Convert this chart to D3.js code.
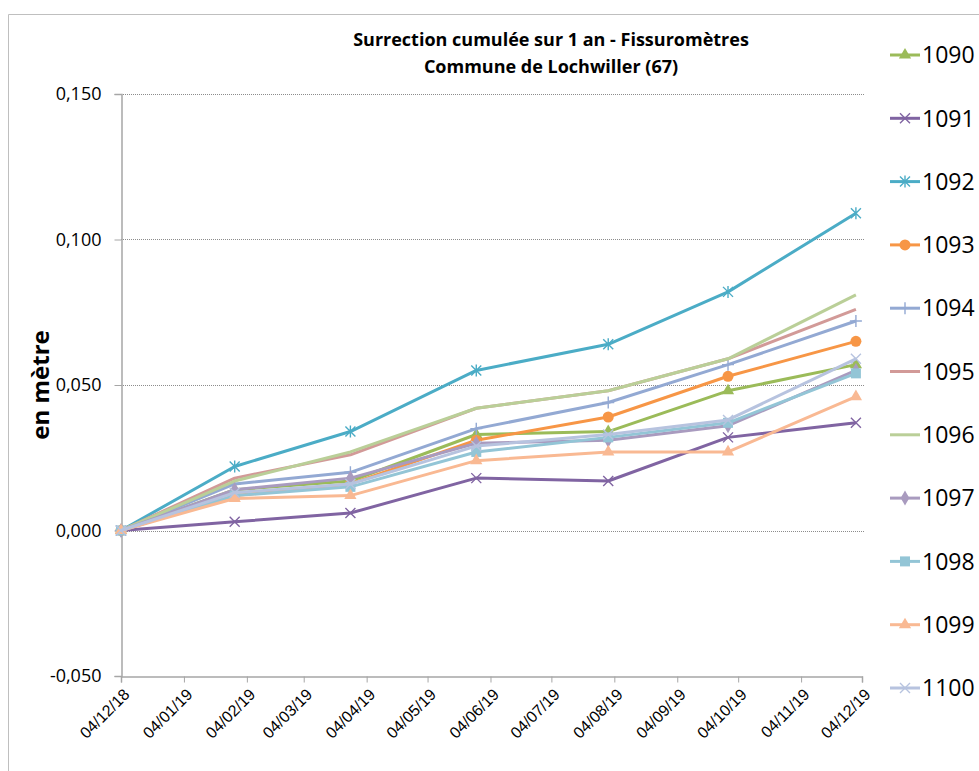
<!DOCTYPE html>
<html>
<head>
<meta charset="utf-8">
<script src="https://cdn.jsdelivr.net/npm/d3@7"></script>
<style>
  html, body { margin: 0; padding: 0; background: #fff; }
  svg { display: block; font-family: "Open Sans", "DejaVu Sans", sans-serif; }
</style>
</head>
<body>
<svg id="chart" width="979" height="771"></svg>
<script>
// ---- data ----
const titleLines = ["Surrection cumulée sur 1 an - Fissuromètres", "Commune de Lochwiller (67)"];
const yAxisTitle = "en mètre";
const measureDates = ["2018-12-04", "2019-01-29", "2019-03-27", "2019-05-28", "2019-08-01", "2019-09-29", "2019-12-01"];
const xTickLabels = ["04/12/18", "04/01/19", "04/02/19", "04/03/19", "04/04/19", "04/05/19", "04/06/19",
                     "04/07/19", "04/08/19", "04/09/19", "04/10/19", "04/11/19", "04/12/19"];
const yTickValues = [-0.05, 0, 0.05, 0.10, 0.15];
const seriesNames = ["1090", "1091", "1092", "1093", "1094", "1095", "1096", "1097", "1098", "1099", "1100"];
const v1090 = [0, 0.014, 0.017, 0.033, 0.034, 0.048, 0.057];
const v1091 = [0, 0.003, 0.006, 0.018, 0.017, 0.032, 0.037];
const v1092 = [0, 0.022, 0.034, 0.055, 0.064, 0.082, 0.109];
const v1093 = [0, 0.012, 0.016, 0.031, 0.039, 0.053, 0.065];
const v1094 = [0, 0.016, 0.020, 0.035, 0.044, 0.057, 0.072];
const v1095 = [0, 0.018, 0.026, 0.042, 0.048, 0.059, 0.076];
const v1096 = [0, 0.017, 0.027, 0.042, 0.048, 0.059, 0.081];
const v1097 = [0, 0.014, 0.018, 0.030, 0.031, 0.036, 0.055];
const v1098 = [0, 0.012, 0.015, 0.027, 0.032, 0.037, 0.054];
const v1099 = [0, 0.011, 0.012, 0.024, 0.027, 0.027, 0.046];
const v1100 = [0, 0.013, 0.016, 0.029, 0.033, 0.038, 0.059];
const seriesValues = [v1090, v1091, v1092, v1093, v1094, v1095, v1096, v1097, v1098, v1099, v1100];
const seriesColors = ["#9BBB59", "#8064A2", "#4BACC6", "#F79646", "#93A9D3", "#D29A98", "#BACF98",
                      "#A99BBF", "#93C5D6", "#F9B993", "#B7C3DF"];
const seriesMarkers = ["triangle", "x", "asterisk", "circle", "plus", "none", "none",
                       "diamond", "square", "triangle", "x"];

// ---- layout ----
const svg = d3.select("#chart");
const parseISO = d3.timeParse("%Y-%m-%d");
const parseTick = d3.timeParse("%d/%m/%y");
const plot = { left: 121, right: 862, top: 94, bottom: 676 };

const x = d3.scaleTime()
  .domain([parseTick(xTickLabels[0]), parseTick(xTickLabels[xTickLabels.length - 1])])
  .range([plot.left, plot.right]);
const y = d3.scaleLinear().domain([-0.05, 0.15]).range([plot.bottom, plot.top]);

// chart border
svg.append("path")
  .attr("d", `M8.5,771 V14.5 H979`)
  .attr("fill", "none").attr("stroke", "#BFBFBF").attr("stroke-width", 1);

// gridlines
svg.append("g").selectAll("line")
  .data(yTickValues.filter(v => v > -0.05))
  .join("line")
  .attr("x1", plot.left).attr("x2", plot.right + 3)
  .attr("y1", d => Math.round(y(d)) + 0.5).attr("y2", d => Math.round(y(d)) + 0.5)
  .attr("stroke", "#8C8C8C").attr("stroke-width", 1).attr("stroke-dasharray", "1,1");

// y axis
const fmt = v => d3.format(".3f")(v).replace(".", ",").replace("−", "-");
const yAxis = d3.axisLeft(y).tickValues(yTickValues).tickSize(7).tickPadding(13).tickFormat(fmt);
const gy = svg.append("g").attr("transform", `translate(${plot.left + 0.5},0)`).call(yAxis);
gy.select(".domain").attr("stroke", "#A6A6A6").attr("stroke-width", 1.5);
gy.selectAll(".tick line").attr("stroke", "#A6A6A6");
gy.selectAll(".tick text").attr("font-size", 18).attr("fill", "#000")
  .attr("font-family", "'Open Sans', sans-serif");

// x axis
const xAxis = d3.axisBottom(x).tickValues(xTickLabels.map(parseTick)).tickSize(6).tickPadding(4)
  .tickFormat((d, i) => xTickLabels[i]);
const gx = svg.append("g").attr("transform", `translate(0,${plot.bottom + 0.5})`).call(xAxis);
gx.select(".domain").attr("stroke", "#A6A6A6").attr("stroke-width", 1.5);
gx.selectAll(".tick line").attr("stroke", "#A6A6A6");
gx.selectAll(".tick text")
  .attr("font-size", 16).attr("fill", "#000")
  .attr("text-anchor", "end")
  .attr("dy", "0.35em")
  .attr("transform", "translate(-2,8) rotate(-45)");

// title
svg.append("text")
  .attr("x", 551).attr("y", 46).attr("text-anchor", "middle")
  .attr("font-size", 18).attr("font-weight", "bold")
  .selectAll("tspan").data(titleLines).join("tspan")
  .attr("x", 551).attr("dy", (d, i) => i === 0 ? 0 : 27).text(d => d);

// y axis title
svg.append("text")
  .attr("transform", "translate(49,385) rotate(-90)")
  .attr("text-anchor", "middle")
  .attr("font-size", 24).attr("font-weight", "bold")
  .text(yAxisTitle);

// markers
function drawMarker(g, type, color, cx, cy) {
  const s = 5;
  if (type === "none") return;
  if (type === "triangle") {
    g.append("path").attr("d", d3.symbol(d3.symbolTriangle, 65)()).attr("transform", `translate(${cx},${cy})`)
      .attr("fill", color);
  } else if (type === "circle") {
    g.append("circle").attr("cx", cx).attr("cy", cy).attr("r", 5.5).attr("fill", color);
  } else if (type === "diamond") {
    g.append("path").attr("d", d3.symbol(d3.symbolDiamond, 65)()).attr("transform", `translate(${cx},${cy})`)
      .attr("fill", color);
  } else if (type === "square") {
    g.append("rect").attr("x", cx - 5).attr("y", cy - 5).attr("width", 10).attr("height", 10).attr("fill", color);
  } else {
    let d = "";
    if (type === "x" || type === "asterisk") d += `M${cx - s},${cy - s}L${cx + s},${cy + s}M${cx - s},${cy + s}L${cx + s},${cy - s}`;
    if (type === "asterisk") d += `M${cx},${cy - s - 1}L${cx},${cy + s + 1}`;
    if (type === "plus") d += `M${cx - s - 1},${cy}L${cx + s + 1},${cy}M${cx},${cy - s - 1}L${cx},${cy + s + 1}`;
    g.append("path").attr("d", d).attr("stroke", color).attr("stroke-width", 1.4).attr("fill", "none");
  }
}

// series
const dates = measureDates.map(parseISO);
const line = d3.line().x((d, i) => x(dates[i])).y(d => y(d));
const gs = svg.append("g");
seriesNames.forEach((name, si) => {
  const g = gs.append("g");
  g.append("path").datum(seriesValues[si]).attr("d", line)
    .attr("fill", "none").attr("stroke", seriesColors[si]).attr("stroke-width", 3)
    .attr("stroke-linejoin", "round");
  seriesValues[si].forEach((v, i) => drawMarker(g, seriesMarkers[si], seriesColors[si], x(dates[i]), y(v)));
});

// legend
const legendTop = 55, legendStep = 63.3;
seriesNames.forEach((name, si) => {
  const ly = legendTop + si * legendStep;
  const g = svg.append("g");
  g.append("line").attr("x1", 890).attr("x2", 920).attr("y1", ly).attr("y2", ly)
    .attr("stroke", seriesColors[si]).attr("stroke-width", 3);
  drawMarker(g, seriesMarkers[si], seriesColors[si], 905, ly);
  g.append("text").attr("x", 922).attr("y", ly).attr("dy", "0.36em")
    .attr("font-size", 23).attr("fill", "#000").text(name);
});
</script>
</body>
</html>
